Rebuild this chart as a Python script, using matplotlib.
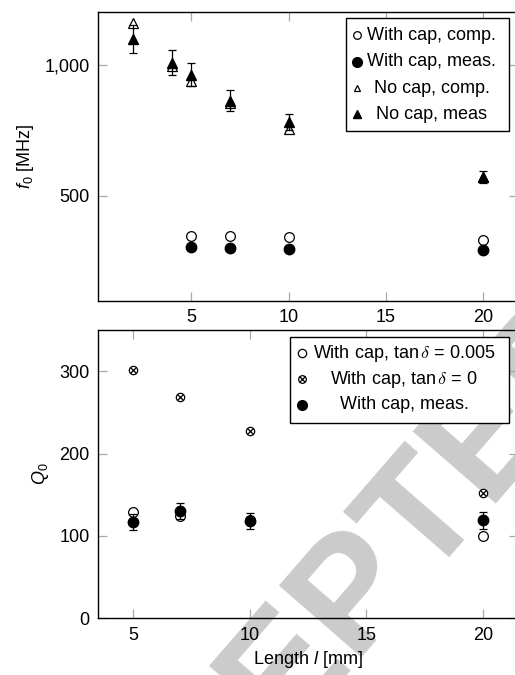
import matplotlib as mpl
import matplotlib.pyplot as plt
from matplotlib.patches import Rectangle
from matplotlib.ticker import FuncFormatter

mpl.rcParams.update({
    "font.family": ["Liberation Sans", "DejaVu Sans"],
    "font.size": 13,
    "mathtext.fontset": "custom",
    "mathtext.rm": "Liberation Sans",
    "mathtext.it": "Liberation Sans:italic",
})

# top panel: resonant frequency f0 [MHz]
len_cap = [5, 7, 10, 20]
f_cap_comp = [345, 346, 341, 330]
f_cap_meas = [305, 301, 298, 294]
f_cap_err = [8, 8, 8, 8]

len_nocap = [2, 4, 5, 7, 10, 20]
f_nocap_comp = [1158, 995, 938, 853, 753, 570]
f_nocap_meas = [1097, 1008, 962, 863, 780, 573]
f_nocap_err = [53, 48, 45, 40, 31, 23]

# bottom panel: quality factor Q0
q_loss = [129, 124, 119, 100]        # tan delta = 0.005
q_lossless = [302, 269, 227, 152]    # tan delta = 0
q_meas = [117, 130, 118, 119]
q_err = [10, 10, 10, 10]

top_labels = ["With cap, comp.", "With cap, meas.", "No cap, comp.", "No cap, meas"]
bottom_labels = [r"With cap, tan$\,\delta$ = 0.005", r"With cap, tan$\,\delta$ = 0",
                 "With cap, meas."]

OPEN = dict(mfc="white", mec="black", mew=0.9, ls="none", color="black")
FULL = dict(mfc="black", mec="black", ls="none", color="black")
ERR = dict(ecolor="black", elinewidth=0.9, capsize=3, capthick=0.9)


def style(ax):
    for sp in ax.spines.values():
        sp.set_linewidth(1.0)
    ax.tick_params(direction="in", length=6.5, width=0.9, color="#a8a8a8",
                   top=True, right=True, pad=6, labelsize=13)


def key(ax, box, mx, tx, rows):
    x0, y0, x1, y1 = box
    ax.add_patch(Rectangle((x0, y0), x1 - x0, y1 - y0, transform=ax.transAxes,
                           fc="white", ec="black", lw=1.0, zorder=5, clip_on=False))
    for y, marks, label in rows:
        for m in marks:
            ax.plot([mx], [y], transform=ax.transAxes, clip_on=False, zorder=6, **m)
        ax.text(tx, y, label, transform=ax.transAxes, ha="center", va="center",
                zorder=6, math_fontfamily="cm")


fig = plt.figure(figsize=(5.15, 6.75), dpi=100)
ax1 = fig.add_axes([0.1903, 0.5541, 0.8155, 0.4281])
ax2 = fig.add_axes([0.1903, 0.0840, 0.8155, 0.4271])

# --- top panel
ax1.plot(len_cap, f_cap_comp, marker="o", ms=7, zorder=3, **OPEN)
ax1.errorbar(len_cap, f_cap_meas, yerr=f_cap_err, fmt="o", ms=7.5, zorder=3, **FULL, **ERR)
ax1.plot(len_nocap, f_nocap_comp, marker="^", ms=6.5, zorder=3, **OPEN)
ax1.errorbar(len_nocap, f_nocap_meas, yerr=f_nocap_err, fmt="^", ms=6.5, zorder=3, **FULL, **ERR)

ax1.set_xlim(0.2, 21.8)
ax1.set_ylim(98, 1201)
ax1.set_xticks([5, 10, 15, 20])
ax1.set_yticks([500, 1000])
ax1.yaxis.set_major_formatter(FuncFormatter(lambda v, p: f"{v:,.0f}"))
ax1.set_ylabel(r"$f_0$ [MHz]", labelpad=6)
style(ax1)

key(ax1, (0.590, 0.588, 0.979, 0.979), 0.617, 0.795, [
    (0.920, [dict(marker="o", ms=5.5, **OPEN)], top_labels[0]),
    (0.828, [dict(marker="o", ms=7, **FULL)], top_labels[1]),
    (0.736, [dict(marker="^", ms=5, **OPEN)], top_labels[2]),
    (0.647, [dict(marker="^", ms=5.5, **FULL)], top_labels[3]),
])

# --- bottom panel
ax2.plot(len_cap, q_loss, marker="o", ms=7, zorder=3, **OPEN)
ax2.plot(len_cap, q_lossless, marker="o", ms=6, zorder=3, **OPEN)
ax2.plot(len_cap, q_lossless, marker="x", ms=4.2, zorder=3, mew=0.9, ls="none", color="black")
ax2.errorbar(len_cap, q_meas, yerr=q_err, fmt="o", ms=7.5, zorder=3, **FULL, **ERR)

ax2.set_xlim(3.5, 21.5)
ax2.set_ylim(0, 350)
ax2.set_xticks([5, 10, 15, 20])
ax2.set_yticks([0, 100, 200, 300])
ax2.set_ylabel(r"$Q_0$", labelpad=6)
ax2.set_xlabel(r"Length $l$ [mm]", labelpad=4)
style(ax2)

key(ax2, (0.457, 0.676, 0.979, 0.977), 0.485, 0.729, [
    (0.919, [dict(marker="o", ms=6, **OPEN)], bottom_labels[0]),
    (0.829, [dict(marker="o", ms=5.5, **OPEN),
             dict(marker="x", ms=3.9, mew=0.9, ls="none", color="black")], bottom_labels[1]),
    (0.740, [dict(marker="o", ms=7, **FULL)], bottom_labels[2]),
])

# watermark from the source page, kept under the key and the labels
ax2.text(0.610, 0.044, "ACCEPTED", transform=fig.transFigure, rotation=49,
         fontsize=115, weight="bold", color="#cbcbcb", ha="center", va="center",
         zorder=1.5, clip_on=False)

fig.savefig("out.png", dpi=100)
